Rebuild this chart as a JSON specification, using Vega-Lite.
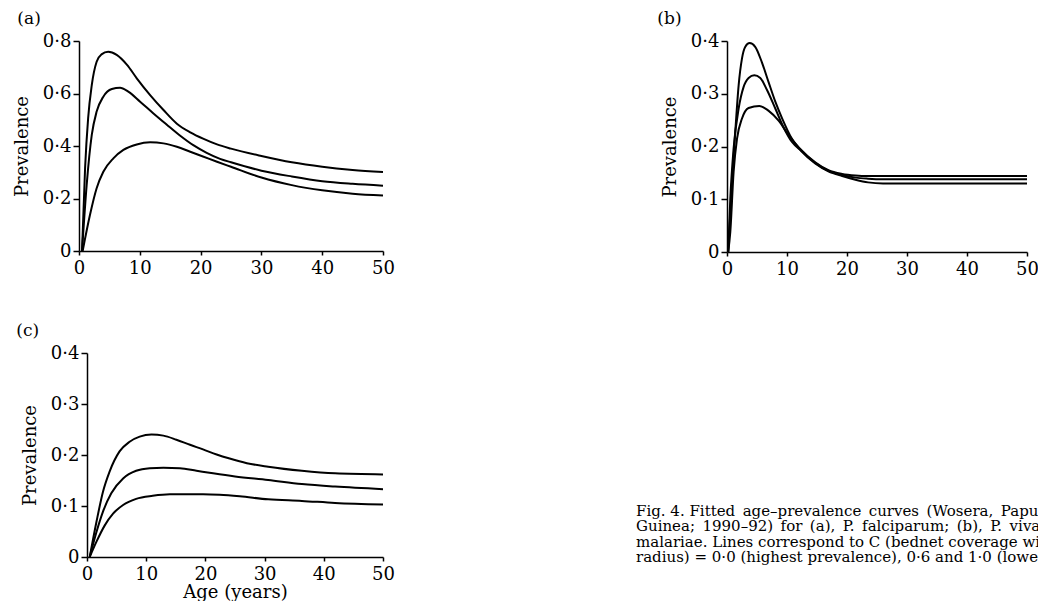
{
  "$schema": "https://vega.github.io/schema/vega-lite/v6.json",
  "padding": {"left": 13, "top": 10, "right": 0, "bottom": 0},
  "background": "white",
  "config": {
    "font": "DejaVu Serif",
    "view": {"stroke": null},
    "axis": {
      "grid": false,
      "domainColor": "black",
      "tickColor": "black",
      "labelColor": "black",
      "titleColor": "black",
      "labelFont": "DejaVu Serif",
      "titleFont": "DejaVu Serif",
      "labelFontSize": 18,
      "titleFontSize": 18,
      "titleFontWeight": "normal",
      "tickSize": 6,
      "domainWidth": 1.5,
      "tickWidth": 1.5,
      "labelPadding": 2,
      "titlePadding": 11
    },
    "axisX": {"tickSize": 4, "labelPadding": 4},
    "title": {"anchor": "start", "fontSize": 17, "fontWeight": "normal", "font": "DejaVu Serif", "color": "black"},
    "line": {"color": "black", "strokeWidth": 2, "interpolate": "monotone"},
    "text": {"font": "DejaVu Serif", "fontSize": 15, "color": "black"}
  },
  "datasets": {
    "fig": [
      {"panel": "a", "curve": 1, "age": 0.5, "prev": 0},
      {"panel": "a", "curve": 1, "age": 1.0, "prev": 0.315},
      {"panel": "a", "curve": 1, "age": 1.5, "prev": 0.505},
      {"panel": "a", "curve": 1, "age": 2.1, "prev": 0.632},
      {"panel": "a", "curve": 1, "age": 2.9, "prev": 0.721},
      {"panel": "a", "curve": 1, "age": 3.7, "prev": 0.749},
      {"panel": "a", "curve": 1, "age": 4.8, "prev": 0.759},
      {"panel": "a", "curve": 1, "age": 6.2, "prev": 0.747},
      {"panel": "a", "curve": 1, "age": 7.9, "prev": 0.709},
      {"panel": "a", "curve": 1, "age": 9.5, "prev": 0.658},
      {"panel": "a", "curve": 1, "age": 11.7, "prev": 0.594},
      {"panel": "a", "curve": 1, "age": 13.9, "prev": 0.537},
      {"panel": "a", "curve": 1, "age": 16.1, "prev": 0.485},
      {"panel": "a", "curve": 1, "age": 18.3, "prev": 0.452},
      {"panel": "a", "curve": 1, "age": 20.5, "prev": 0.427},
      {"panel": "a", "curve": 1, "age": 22.7, "prev": 0.406},
      {"panel": "a", "curve": 1, "age": 25, "prev": 0.39},
      {"panel": "a", "curve": 1, "age": 30, "prev": 0.362},
      {"panel": "a", "curve": 1, "age": 35, "prev": 0.338},
      {"panel": "a", "curve": 1, "age": 40, "prev": 0.321},
      {"panel": "a", "curve": 1, "age": 45, "prev": 0.309},
      {"panel": "a", "curve": 1, "age": 50, "prev": 0.301},

      {"panel": "a", "curve": 2, "age": 0.5, "prev": 0},
      {"panel": "a", "curve": 2, "age": 1.26, "prev": 0.251},
      {"panel": "a", "curve": 2, "age": 2.1, "prev": 0.442},
      {"panel": "a", "curve": 2, "age": 2.9, "prev": 0.531},
      {"panel": "a", "curve": 2, "age": 4.0, "prev": 0.588},
      {"panel": "a", "curve": 2, "age": 5.4, "prev": 0.617},
      {"panel": "a", "curve": 2, "age": 6.75, "prev": 0.622},
      {"panel": "a", "curve": 2, "age": 8.1, "prev": 0.607},
      {"panel": "a", "curve": 2, "age": 10.05, "prev": 0.569},
      {"panel": "a", "curve": 2, "age": 12.2, "prev": 0.525},
      {"panel": "a", "curve": 2, "age": 14.4, "prev": 0.482},
      {"panel": "a", "curve": 2, "age": 16.6, "prev": 0.44},
      {"panel": "a", "curve": 2, "age": 18.8, "prev": 0.403},
      {"panel": "a", "curve": 2, "age": 21, "prev": 0.374},
      {"panel": "a", "curve": 2, "age": 23.2, "prev": 0.351},
      {"panel": "a", "curve": 2, "age": 25, "prev": 0.338},
      {"panel": "a", "curve": 2, "age": 30, "prev": 0.306},
      {"panel": "a", "curve": 2, "age": 35, "prev": 0.284},
      {"panel": "a", "curve": 2, "age": 40, "prev": 0.266},
      {"panel": "a", "curve": 2, "age": 45, "prev": 0.256},
      {"panel": "a", "curve": 2, "age": 50, "prev": 0.249},

      {"panel": "a", "curve": 3, "age": 0.6, "prev": 0},
      {"panel": "a", "curve": 3, "age": 1.8, "prev": 0.137},
      {"panel": "a", "curve": 3, "age": 2.9, "prev": 0.239},
      {"panel": "a", "curve": 3, "age": 4.0, "prev": 0.302},
      {"panel": "a", "curve": 3, "age": 5.65, "prev": 0.353},
      {"panel": "a", "curve": 3, "age": 7.3, "prev": 0.385},
      {"panel": "a", "curve": 3, "age": 9.5, "prev": 0.406},
      {"panel": "a", "curve": 3, "age": 11.7, "prev": 0.414},
      {"panel": "a", "curve": 3, "age": 13.9, "prev": 0.41},
      {"panel": "a", "curve": 3, "age": 16.1, "prev": 0.397},
      {"panel": "a", "curve": 3, "age": 18.3, "prev": 0.378},
      {"panel": "a", "curve": 3, "age": 20.5, "prev": 0.359},
      {"panel": "a", "curve": 3, "age": 22.7, "prev": 0.34},
      {"panel": "a", "curve": 3, "age": 25, "prev": 0.321},
      {"panel": "a", "curve": 3, "age": 30, "prev": 0.28},
      {"panel": "a", "curve": 3, "age": 35, "prev": 0.251},
      {"panel": "a", "curve": 3, "age": 40, "prev": 0.231},
      {"panel": "a", "curve": 3, "age": 45, "prev": 0.218},
      {"panel": "a", "curve": 3, "age": 50, "prev": 0.211},

      {"panel": "b", "curve": 1, "age": 0.2, "prev": 0},
      {"panel": "b", "curve": 1, "age": 0.83, "prev": 0.133},
      {"panel": "b", "curve": 1, "age": 1.38, "prev": 0.228},
      {"panel": "b", "curve": 1, "age": 1.94, "prev": 0.316},
      {"panel": "b", "curve": 1, "age": 2.5, "prev": 0.367},
      {"panel": "b", "curve": 1, "age": 3.05, "prev": 0.389},
      {"panel": "b", "curve": 1, "age": 3.77, "prev": 0.396},
      {"panel": "b", "curve": 1, "age": 4.7, "prev": 0.389},
      {"panel": "b", "curve": 1, "age": 5.8, "prev": 0.36},
      {"panel": "b", "curve": 1, "age": 6.9, "prev": 0.323},
      {"panel": "b", "curve": 1, "age": 8.05, "prev": 0.285},
      {"panel": "b", "curve": 1, "age": 9.2, "prev": 0.253},
      {"panel": "b", "curve": 1, "age": 10.8, "prev": 0.215},
      {"panel": "b", "curve": 1, "age": 12.5, "prev": 0.19},
      {"panel": "b", "curve": 1, "age": 14.7, "prev": 0.168},
      {"panel": "b", "curve": 1, "age": 16.9, "prev": 0.153},
      {"panel": "b", "curve": 1, "age": 19.2, "prev": 0.144},
      {"panel": "b", "curve": 1, "age": 21.4, "prev": 0.137},
      {"panel": "b", "curve": 1, "age": 23.5, "prev": 0.132},
      {"panel": "b", "curve": 1, "age": 26, "prev": 0.13},
      {"panel": "b", "curve": 1, "age": 30, "prev": 0.13},
      {"panel": "b", "curve": 1, "age": 40, "prev": 0.13},
      {"panel": "b", "curve": 1, "age": 50, "prev": 0.13},

      {"panel": "b", "curve": 2, "age": 0.2, "prev": 0},
      {"panel": "b", "curve": 2, "age": 0.55, "prev": 0.101},
      {"panel": "b", "curve": 2, "age": 1.1, "prev": 0.196},
      {"panel": "b", "curve": 2, "age": 1.94, "prev": 0.272},
      {"panel": "b", "curve": 2, "age": 2.77, "prev": 0.313},
      {"panel": "b", "curve": 2, "age": 3.6, "prev": 0.33},
      {"panel": "b", "curve": 2, "age": 4.55, "prev": 0.335},
      {"panel": "b", "curve": 2, "age": 5.55, "prev": 0.33},
      {"panel": "b", "curve": 2, "age": 6.67, "prev": 0.307},
      {"panel": "b", "curve": 2, "age": 8.05, "prev": 0.272},
      {"panel": "b", "curve": 2, "age": 9.4, "prev": 0.237},
      {"panel": "b", "curve": 2, "age": 10.8, "prev": 0.209},
      {"panel": "b", "curve": 2, "age": 12.5, "prev": 0.191},
      {"panel": "b", "curve": 2, "age": 14.7, "prev": 0.169},
      {"panel": "b", "curve": 2, "age": 16.9, "prev": 0.154},
      {"panel": "b", "curve": 2, "age": 19.2, "prev": 0.146},
      {"panel": "b", "curve": 2, "age": 21.4, "prev": 0.141},
      {"panel": "b", "curve": 2, "age": 23.5, "prev": 0.139},
      {"panel": "b", "curve": 2, "age": 26, "prev": 0.138},
      {"panel": "b", "curve": 2, "age": 30, "prev": 0.138},
      {"panel": "b", "curve": 2, "age": 40, "prev": 0.138},
      {"panel": "b", "curve": 2, "age": 50, "prev": 0.138},

      {"panel": "b", "curve": 3, "age": 0.2, "prev": 0},
      {"panel": "b", "curve": 3, "age": 0.55, "prev": 0.038},
      {"panel": "b", "curve": 3, "age": 1.1, "prev": 0.152},
      {"panel": "b", "curve": 3, "age": 1.67, "prev": 0.215},
      {"panel": "b", "curve": 3, "age": 2.5, "prev": 0.253},
      {"panel": "b", "curve": 3, "age": 3.6, "prev": 0.273},
      {"panel": "b", "curve": 3, "age": 5.4, "prev": 0.277},
      {"panel": "b", "curve": 3, "age": 6.9, "prev": 0.268},
      {"panel": "b", "curve": 3, "age": 8.6, "prev": 0.249},
      {"panel": "b", "curve": 3, "age": 10.3, "prev": 0.221},
      {"panel": "b", "curve": 3, "age": 12, "prev": 0.198},
      {"panel": "b", "curve": 3, "age": 14.7, "prev": 0.17},
      {"panel": "b", "curve": 3, "age": 16.9, "prev": 0.155},
      {"panel": "b", "curve": 3, "age": 19.2, "prev": 0.148},
      {"panel": "b", "curve": 3, "age": 21.4, "prev": 0.145},
      {"panel": "b", "curve": 3, "age": 23.5, "prev": 0.144},
      {"panel": "b", "curve": 3, "age": 26, "prev": 0.144},
      {"panel": "b", "curve": 3, "age": 30, "prev": 0.144},
      {"panel": "b", "curve": 3, "age": 40, "prev": 0.144},
      {"panel": "b", "curve": 3, "age": 50, "prev": 0.144},

      {"panel": "c", "curve": 1, "age": 0.46, "prev": 0},
      {"panel": "c", "curve": 1, "age": 1.6, "prev": 0.069},
      {"panel": "c", "curve": 1, "age": 2.7, "prev": 0.128},
      {"panel": "c", "curve": 1, "age": 3.8, "prev": 0.167},
      {"panel": "c", "curve": 1, "age": 5.5, "prev": 0.207},
      {"panel": "c", "curve": 1, "age": 7.2, "prev": 0.226},
      {"panel": "c", "curve": 1, "age": 8.9, "prev": 0.236},
      {"panel": "c", "curve": 1, "age": 10.9, "prev": 0.24},
      {"panel": "c", "curve": 1, "age": 12.9, "prev": 0.238},
      {"panel": "c", "curve": 1, "age": 15.1, "prev": 0.23},
      {"panel": "c", "curve": 1, "age": 17.4, "prev": 0.22},
      {"panel": "c", "curve": 1, "age": 19.6, "prev": 0.211},
      {"panel": "c", "curve": 1, "age": 21.9, "prev": 0.201},
      {"panel": "c", "curve": 1, "age": 24.1, "prev": 0.193},
      {"panel": "c", "curve": 1, "age": 27, "prev": 0.184},
      {"panel": "c", "curve": 1, "age": 30.6, "prev": 0.177},
      {"panel": "c", "curve": 1, "age": 36.3, "prev": 0.169},
      {"panel": "c", "curve": 1, "age": 41.9, "prev": 0.164},
      {"panel": "c", "curve": 1, "age": 50, "prev": 0.162},

      {"panel": "c", "curve": 2, "age": 0.46, "prev": 0},
      {"panel": "c", "curve": 2, "age": 1.6, "prev": 0.049},
      {"panel": "c", "curve": 2, "age": 2.7, "prev": 0.089},
      {"panel": "c", "curve": 2, "age": 4.1, "prev": 0.125},
      {"panel": "c", "curve": 2, "age": 6.1, "prev": 0.154},
      {"panel": "c", "curve": 2, "age": 8.3, "prev": 0.169},
      {"panel": "c", "curve": 2, "age": 10.6, "prev": 0.174},
      {"panel": "c", "curve": 2, "age": 12.9, "prev": 0.175},
      {"panel": "c", "curve": 2, "age": 15.7, "prev": 0.174},
      {"panel": "c", "curve": 2, "age": 18.5, "prev": 0.169},
      {"panel": "c", "curve": 2, "age": 21.3, "prev": 0.164},
      {"panel": "c", "curve": 2, "age": 25, "prev": 0.158},
      {"panel": "c", "curve": 2, "age": 30.6, "prev": 0.151},
      {"panel": "c", "curve": 2, "age": 36.3, "prev": 0.143},
      {"panel": "c", "curve": 2, "age": 41.9, "prev": 0.138},
      {"panel": "c", "curve": 2, "age": 50, "prev": 0.133},

      {"panel": "c", "curve": 3, "age": 0.46, "prev": 0},
      {"panel": "c", "curve": 3, "age": 1.6, "prev": 0.03},
      {"panel": "c", "curve": 3, "age": 3.0, "prev": 0.062},
      {"panel": "c", "curve": 3, "age": 4.4, "prev": 0.085},
      {"panel": "c", "curve": 3, "age": 6.1, "prev": 0.102},
      {"panel": "c", "curve": 3, "age": 8.3, "prev": 0.114},
      {"panel": "c", "curve": 3, "age": 11.1, "prev": 0.12},
      {"panel": "c", "curve": 3, "age": 14, "prev": 0.123},
      {"panel": "c", "curve": 3, "age": 16.8, "prev": 0.123},
      {"panel": "c", "curve": 3, "age": 19.6, "prev": 0.123},
      {"panel": "c", "curve": 3, "age": 22.4, "prev": 0.122},
      {"panel": "c", "curve": 3, "age": 25.8, "prev": 0.119},
      {"panel": "c", "curve": 3, "age": 30.6, "prev": 0.113},
      {"panel": "c", "curve": 3, "age": 36.3, "prev": 0.11},
      {"panel": "c", "curve": 3, "age": 41.9, "prev": 0.106},
      {"panel": "c", "curve": 3, "age": 50, "prev": 0.103}
    ],
    "caption": [
      {"line": 1, "text": "Fig. 4. Fitted\u2002age–prevalence\u2002curves\u2002(Wosera,\u2002Papua\u2002New"},
      {"line": 2, "text": "Guinea;\u20021990–92)\u2002for\u2002(a),\u2002P.\u2002falciparum;\u2002(b),\u2002P.\u2002vivax;\u2002(c),\u2002P."},
      {"line": 3, "text": "malariae. Lines correspond to C (bednet coverage within 1 km"},
      {"line": 4, "text": "radius) = 0·0 (highest prevalence), 0·6 and 1·0 (lowest prevalence)."}
    ]
  },
  "spacing": 44,
  "vconcat": [
    {
      "spacing": 262,
      "hconcat": [
        {
          "title": {"text": "(a)", "dx": 4},
          "width": 304,
          "height": 210,
          "data": {"name": "fig"},
          "transform": [{"filter": "datum.panel == 'a'"}],
          "mark": "line",
          "encoding": {
            "x": {"field": "age", "type": "quantitative", "scale": {"domain": [0, 50], "nice": false},
                  "axis": {"values": [0, 10, 20, 30, 40, 50], "title": null, "labelFlush": false}},
            "y": {"field": "prev", "type": "quantitative", "scale": {"domain": [0, 0.8], "nice": false},
                  "axis": {"values": [0, 0.2, 0.4, 0.6, 0.8], "title": "Prevalence",
                           "labelExpr": "datum.value == 0 ? '0' : replace(format(datum.value, '.1f'), '.', '·')"}},
            "detail": {"field": "curve", "type": "nominal"}
          }
        },
        {
          "title": {"text": "(b)", "dx": -4},
          "width": 300,
          "height": 211,
          "data": {"name": "fig"},
          "transform": [{"filter": "datum.panel == 'b'"}],
          "mark": "line",
          "encoding": {
            "x": {"field": "age", "type": "quantitative", "scale": {"domain": [0, 50], "nice": false},
                  "axis": {"values": [0, 10, 20, 30, 40, 50], "title": null, "labelFlush": false}},
            "y": {"field": "prev", "type": "quantitative", "scale": {"domain": [0, 0.4], "nice": false},
                  "axis": {"values": [0, 0.1, 0.2, 0.3, 0.4], "title": "Prevalence",
                           "labelExpr": "datum.value == 0 ? '0' : replace(format(datum.value, '.1f'), '.', '·')"}},
            "detail": {"field": "curve", "type": "nominal"}
          }
        }
      ]
    },
    {
      "spacing": 240,
      "hconcat": [
        {
          "title": {"text": "(c)", "dx": -5},
          "width": 304,
          "height": 204,
          "data": {"name": "fig"},
          "transform": [{"filter": "datum.panel == 'c'"}],
          "mark": "line",
          "encoding": {
            "x": {"field": "age", "type": "quantitative", "scale": {"domain": [0, 50], "nice": false, "range": [8, 304]},
                  "axis": {"values": [0, 10, 20, 30, 40, 50], "title": "Age (years)", "titlePadding": 0, "labelFlush": false}},
            "y": {"field": "prev", "type": "quantitative", "scale": {"domain": [0, 0.4], "nice": false},
                  "axis": {"values": [0, 0.1, 0.2, 0.3, 0.4], "title": "Prevalence", "offset": -8,
                           "labelExpr": "datum.value == 0 ? '0' : replace(format(datum.value, '.1f'), '.', '·')"}},
            "detail": {"field": "curve", "type": "nominal"}
          }
        },
        {
          "width": 2,
          "height": 210,
          "data": {"name": "caption"},
          "mark": {"type": "text", "align": "left", "baseline": "middle"},
          "encoding": {
            "y": {"field": "line", "type": "quantitative", "axis": null,
                  "scale": {"domain": [-9.194, 4.355], "nice": false, "zero": false, "reverse": true}},
            "text": {"field": "text", "type": "nominal"}
          }
        }
      ]
    }
  ]
}
